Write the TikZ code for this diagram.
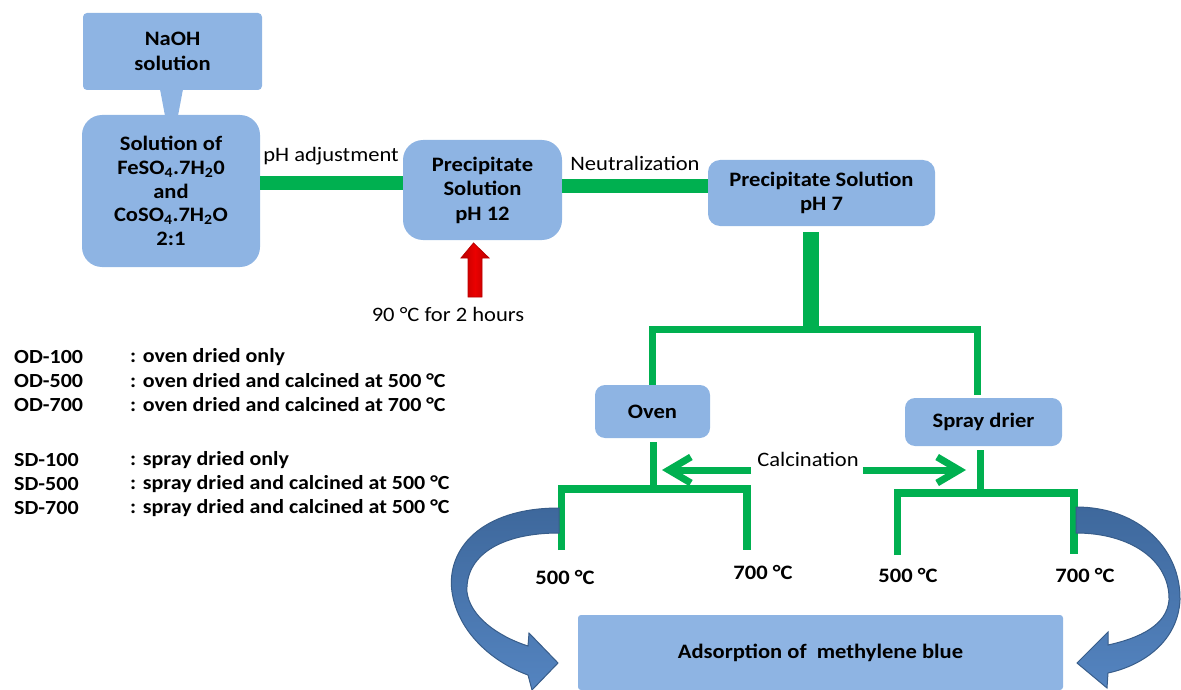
\documentclass[tikz,border=0pt]{standalone}
\usepackage{fontspec}
\setmainfont{Carlito}[FakeStretch=1.1]
\usetikzlibrary{arrows.meta}
\definecolor{boxblue}{RGB}{142,180,227}
\definecolor{gr}{RGB}{0,176,80}
\definecolor{hotred}{RGB}{235,0,0}
\definecolor{hotdark}{RGB}{185,0,0}
\definecolor{arrblue}{RGB}{84,132,192}
\definecolor{arrtop}{RGB}{62,104,156}
\definecolor{arrdark}{RGB}{56,93,138}
\begin{document}
\begin{tikzpicture}[x=1pt,y=-1pt,
  every node/.style={font=\fontsize{20.5}{24.5}\selectfont, inner sep=0pt},
  box/.style={fill=boxblue, align=center, font=\fontsize{20.5}{24.5}\selectfont\bfseries},
  lbl/.style={font=\fontsize{20.5}{24.5}\selectfont},
  blbl/.style={font=\fontsize{20.5}{24.5}\selectfont\bfseries},
  leg/.style={anchor=west, font=\fontsize{20}{24}\selectfont\bfseries},
  gthick/.style={draw=gr, line width=13pt},
  gtrunk/.style={draw=gr, line width=16pt},
  gmed/.style={draw=gr, line width=7.5pt, line join=miter},
  garrow/.style={draw=gr, line width=7pt, -{Straight Barb[length=22pt,width=26pt]}},
  curvy/.style={top color=arrtop, bottom color=arrblue, draw=arrdark, line width=1pt},
]
\useasboundingbox (0,0) rectangle (1181,690);

% boxes
\node[box, minimum width=179pt, minimum height=77pt, rounded corners=4pt] (naoh) at (172.5,51.5) {NaOH\\solution};
\node[box, minimum width=178pt, minimum height=152pt, rounded corners=20pt, font=\fontsize{20.5}{23.75}\selectfont\bfseries] (sol) at (171,191)
  {Solution of\\FeSO\textsubscript{4}.7H\textsubscript{2}0\\and\\CoSO\textsubscript{4}.7H\textsubscript{2}O\\2:1};
\fill[boxblue] ([xshift=-12.5pt,yshift=1pt]naoh.south) -- ([xshift=10.5pt,yshift=1pt]naoh.south)
  -- ([xshift=7pt,yshift=-1pt]sol.north) -- ([xshift=-6pt,yshift=-1pt]sol.north) -- cycle;

\node[box, minimum width=159pt, minimum height=100pt, rounded corners=20pt] (pre1) at (482.5,190) {Precipitate\\Solution\\pH 12};
\node[box, minimum width=227pt, minimum height=66pt, rounded corners=12pt] (pre2) at (821.5,193) {Precipitate Solution\\pH 7};
\node[box, minimum width=115pt, minimum height=53pt, rounded corners=10pt] (oven) at (652.5,411.5) {Oven};
\node[box, minimum width=157pt, minimum height=48pt, rounded corners=10pt] (spray) at (983.5,422) {Spray drier};
\node[box, minimum width=485pt, minimum height=75pt, rounded corners=3pt] (ads) at (820.5,652.5) {Adsorption of \ methylene blue};

% first connectors
\draw[gthick] ([yshift=8pt]sol.east) -- ([yshift=8pt]sol.east -| pre1.west);
\node[lbl] (phadj) at (331,156) {pH adjustment};
\draw[gthick] ([yshift=4pt]pre1.east) -- ([yshift=4pt]pre1.east -| pre2.west);
\node[lbl] (neut) at (635,163) {Neutralization};

% heating arrow
\coordinate (heattip) at (473.5,243);
\node[lbl] (heat) at (448,314) {90 °C for 2 hours};
\path[left color=hotdark, right color=hotdark, middle color=hotred, draw=hotdark, line width=0.8pt]
  (heattip) -- ++(15.5,15) -- ++(-7,0) -- ++(0,39) -- ++(-14,0) -- ++(0,-39) -- ++(-7,0) -- cycle;

% split to oven / spray drier
\coordinate (split) at (811,329.5);
\draw[gtrunk] ([xshift=-10.5pt,yshift=-6pt]pre2.south) -- ([yshift=-3pt]split);
\draw[gmed] (oven.north) -- (oven.north |- split) -- ([xshift=-6pt]spray.north |- split) -- ([xshift=-6pt,yshift=3pt]spray.north);

% oven bracket
\coordinate (ob) at (653.5,489);
\coordinate (o5) at (561.5,550);
\coordinate (o7) at (747,550);
\draw[gmed] ([xshift=1pt,yshift=-4pt]oven.south) -- (ob);
\draw[gmed] (o5) -- (o5 |- ob) -- (o7 |- ob) -- (o7);

% spray bracket
\coordinate (sb) at (980.5,493);
\coordinate (s5) at (897.5,555);
\coordinate (s7) at (1074,554);
\draw[gmed] ([xshift=-3pt,yshift=-4pt]spray.south) -- (sb);
\draw[gmed] (s5) -- (s5 |- sb) -- (s7 |- sb) -- (s7);

% calcination
\node[lbl] (calc) at (808,459) {Calcination};
\coordinate (oarr) at (662,470);
\coordinate (sarr) at (966,470);
\draw[garrow] ([xshift=-6pt]calc.west |- oarr) -- (oarr);
\draw[garrow] ([xshift=4pt]calc.east |- sarr) -- (sarr);

% temperatures
\node[blbl] (t1) at (565,577) {500 °C};
\node[blbl] (t2) at (763,572) {700 °C};
\node[blbl] (t3) at (908,575) {500 °C};
\node[blbl] (t4) at (1085,575) {700 °C};

% curved arrows
\path[curvy] (559,508) .. controls (480,508) and (446,550) .. (452,592)
  .. controls (458,632) and (492,662) .. (528,675) -- (532,690) -- (558,663) -- (529,633) -- (528,646)
  .. controls (497,636) and (470,616) .. (467,592) .. controls (465,556) and (500,533) .. (559,533) -- cycle;
\path[curvy] (1076,507) .. controls (1140,507) and (1181,550) .. (1180,600)
  .. controls (1178,640) and (1145,665) .. (1108,673) -- (1107,688) -- (1077,663) -- (1108,632) -- (1108,645)
  .. controls (1140,638) and (1167,625) .. (1169,600) .. controls (1170,560) and (1130,533) .. (1076,533) -- cycle;

% legend
\node[leg] (l1) at (14,357) {OD-100};
\node[leg] (d1) at (130,357) {: oven dried only};
\node[leg] (l2) at (14,381) {OD-500};
\node[leg] (d2) at (130,381) {: oven dried and calcined at 500 °C};
\node[leg] (l3) at (14,405) {OD-700};
\node[leg] (d3) at (130,405) {: oven dried and calcined at 700 °C};
\node[leg] (l4) at (14,460) {SD-100};
\node[leg] (d4) at (130,460) {: spray dried only};
\node[leg] (l5) at (14,484) {SD-500};
\node[leg] (d5) at (130,484) {: spray dried and calcined at 500 °C};
\node[leg] (l6) at (14,508) {SD-700};
\node[leg] (d6) at (130,508) {: spray dried and calcined at 500 °C};
\end{tikzpicture}
\end{document}
